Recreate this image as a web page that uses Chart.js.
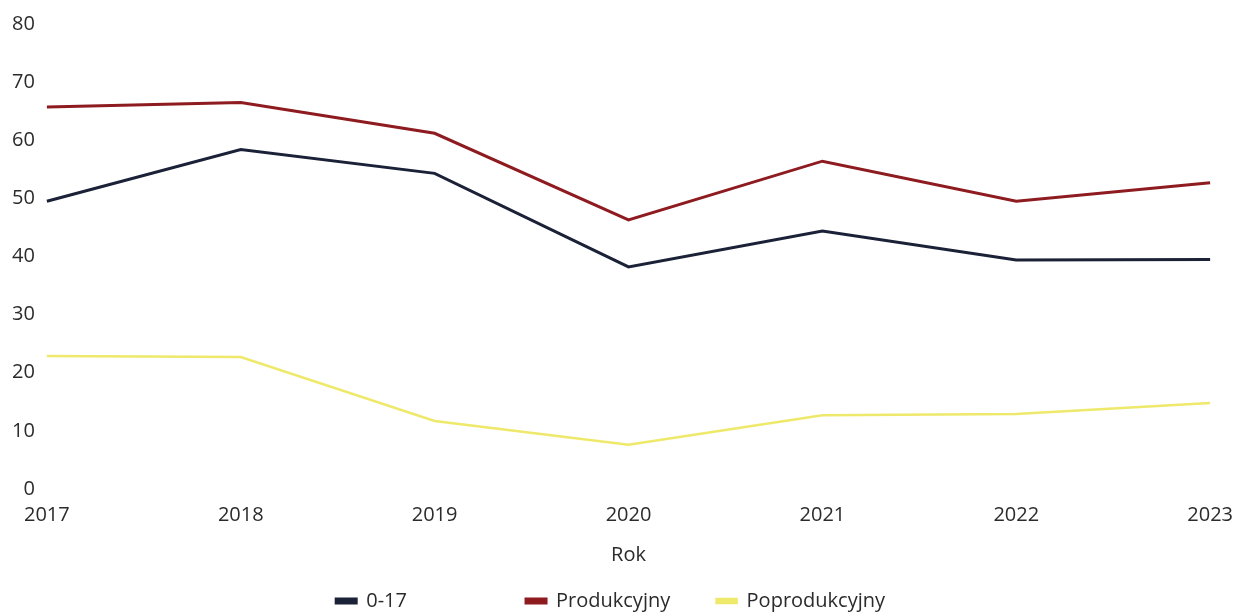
<!DOCTYPE html>
<html>
<head>
<meta charset="utf-8">
<script src="https://cdn.jsdelivr.net/npm/chart.js@4/dist/chart.umd.min.js"></script>
<style>
  html, body { margin: 0; padding: 0; background: #fff; }
  #wrap { width: 1247px; height: 614px; position: relative; }
</style>
</head>
<body>
<div id="wrap"><canvas id="lineChart"></canvas></div>
<script>
const years = ['2017', '2018', '2019', '2020', '2021', '2022', '2023']
const group017 = [49.5, 58.4, 54.3, 38.2, 44.4, 39.4, 39.5]
const produkcyjny = [65.7, 66.5, 61.2, 46.3, 56.4, 49.5, 52.7]
const poprodukcyjny = [22.9, 22.7, 11.7, 7.6, 12.7, 12.9, 14.8]
const yTicks = [0, 10, 20, 30, 40, 50, 60, 70, 80]

const fontFamily = "'Open Sans', sans-serif"
const fontSize = 20
Chart.defaults.font.family = fontFamily
Chart.defaults.font.size = fontSize
Chart.defaults.color = '#2b2b2b'

// legend items sit in fixed-width columns in the original, so widen the text slots
const legendColumn = 192
const measureCtx = document.createElement('canvas').getContext('2d')
measureCtx.font = fontSize + 'px ' + fontFamily

function padLegendText(text, target) {
    let padded = text
    while (measureCtx.measureText(padded + ' ').width <= target) padded += ' '
    return padded
}

function drawLineChart() {
    const canvas = document.getElementById('lineChart')
    new Chart(canvas, {
        type: 'line',
        data: {
            labels: years,
            datasets: [{
                label: '0-17',
                data: group017,
                borderColor: '#1b2238',
                backgroundColor: '#1b2238',
                borderWidth: 3
            }, {
                label: 'Produkcyjny',
                data: produkcyjny,
                borderColor: '#8e1b1f',
                backgroundColor: '#8e1b1f',
                borderWidth: 3
            }, {
                label: 'Poprodukcyjny',
                data: poprodukcyjny,
                borderColor: '#eee96a',
                backgroundColor: '#eee96a',
                borderWidth: 2.5
            }]
        },
        options: {
            responsive: true,
            maintainAspectRatio: false,
            animation: false,
            elements: { point: { radius: 0 }, line: { tension: 0 } },
            layout: { padding: { left: 0, right: 5, top: 12, bottom: -7 } },
            scales: {
                x: {
                    grid: { display: false, drawTicks: false },
                    border: { display: false },
                    ticks: { padding: 14, maxRotation: 0 },
                    title: { display: true, text: 'Rok', padding: { top: 2, bottom: 14 } }
                },
                y: {
                    min: 0,
                    max: 80,
                    afterBuildTicks: axis => { axis.ticks = yTicks.map(v => ({ value: v })) },
                    grid: { display: false, drawTicks: false },
                    border: { display: false },
                    ticks: { padding: 12 }
                }
            },
            plugins: {
                tooltip: { enabled: false },
                legend: {
                    position: 'bottom',
                    labels: {
                        boxWidth: 20,
                        boxHeight: 4,
                        padding: 10,
                        generateLabels: chart => {
                            const items = Chart.defaults.plugins.legend.labels.generateLabels(chart)
                            items.forEach((item, i) => {
                                const last = i === items.length - 1
                                const target = last ? 164 : legendColumn - 20 - fontSize / 2 - 10
                                item.text = padLegendText(item.text, target)
                            })
                            return items
                        }
                    }
                }
            }
        }
    })
}

drawLineChart()
</script>
</body>
</html>
